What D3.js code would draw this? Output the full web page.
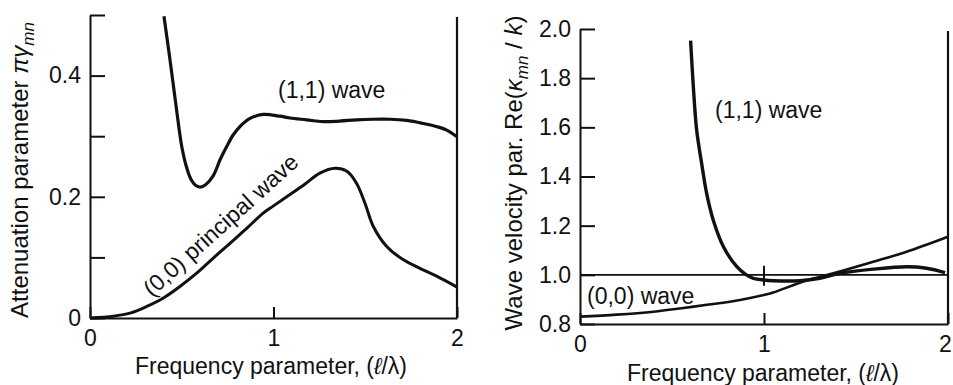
<!DOCTYPE html>
<html>
<head>
<meta charset="utf-8">
<script src="https://cdn.jsdelivr.net/npm/d3@7"></script>
<style>
	body { margin: 0; background: #fff; }
	svg { display: block; }
	text { fill: #111; font-family: "Liberation Sans", Arial, sans-serif; }
</style>
</head>
<body>
<div class="chart"></div>
<script>
// left panel: attenuation parameter
const att11X = [0.403, 0.436, 0.472, 0.500, 0.525, 0.550, 0.575, 0.600, 0.630, 0.672, 0.710, 0.745, 0.780, 0.817, 0.870, 0.944, 1.035, 1.090, 1.180, 1.270, 1.360, 1.453, 1.545, 1.635, 1.726, 1.816, 1.900, 1.944, 2.000];
const att11Y = [0.498, 0.426, 0.343, 0.283, 0.250, 0.229, 0.219, 0.216, 0.220, 0.235, 0.262, 0.283, 0.302, 0.316, 0.329, 0.336, 0.333, 0.330, 0.327, 0.324, 0.325, 0.327, 0.328, 0.328, 0.326, 0.321, 0.315, 0.310, 0.299];
const att00X = [0, 0.127, 0.218, 0.309, 0.400, 0.490, 0.581, 0.672, 0.763, 0.854, 0.944, 1.000, 1.072, 1.163, 1.253, 1.335, 1.400, 1.453, 1.499, 1.544, 1.617, 1.708, 1.798, 1.889, 2.000];
const att00Y = [0, 0.003, 0.008, 0.019, 0.033, 0.052, 0.074, 0.099, 0.123, 0.148, 0.173, 0.185, 0.200, 0.219, 0.239, 0.247, 0.242, 0.222, 0.189, 0.151, 0.118, 0.096, 0.082, 0.069, 0.051];

// right panel: wave velocity parameter
const vel11X = [0.601, 0.616, 0.634, 0.661, 0.688, 0.724, 0.779, 0.851, 0.900, 0.942, 1.000, 1.050, 1.196, 1.304, 1.413, 1.594, 1.775, 1.884, 1.984];
const vel11Y = [1.953, 1.765, 1.589, 1.454, 1.332, 1.223, 1.115, 1.034, 1.002, 0.986, 0.979, 0.976, 0.976, 0.986, 1.006, 1.023, 1.033, 1.027, 1.009];
const vel00X = [0, 0.200, 0.400, 0.552, 0.700, 0.870, 1.000, 1.050, 1.232, 1.377, 1.594, 1.775, 2.000];
const vel00Y = [0.830, 0.838, 0.850, 0.864, 0.879, 0.898, 0.918, 0.928, 0.977, 1.006, 1.053, 1.094, 1.155];

// ticks
const xTicks = [0, 1, 2];
const xTickLabels = ['0', '1', '2'];
const attTicks = [0, 0.1, 0.2, 0.3, 0.4, 0.5];
const attTickLabels = ['0', '', '0.2', '', '0.4', ''];
const velTicks = [0.8, 1.0, 1.2, 1.4, 1.6, 1.8, 2.0];
const velTickLabels = ['0.8', '1.0', '1.2', '1.4', '1.6', '1.8', '2.0'];

const W = 953, H = 385;
const font = 23;

let svg = d3.select('.chart').append('svg')
	.attr('width', W)
	.attr('height', H);

function zip(xs, ys) {
	return xs.map((d, i) => ({ x: d, y: ys[i] }));
}

function drawPanel(opt) {
	let x = d3.scaleLinear().domain([0, 2]).range(opt.xRange);
	let y = d3.scaleLinear().domain(opt.yDomain).range(opt.yRange);
	let g = svg.append('g');

	//left axis, ticks pointing inward
	let yAxis = d3.axisLeft(y)
		.tickValues(opt.yTicks)
		.tickFormat((d, i) => opt.yLabels[i])
		.tickSizeInner(-15)
		.tickSizeOuter(0)
		.tickPadding(9);
	let yg = g.append('g')
		.attr('transform', 'translate(' + opt.xRange[0] + ',0)')
		.call(yAxis);

	let xAxis = d3.axisBottom(x)
		.tickValues(xTicks)
		.tickFormat((d, i) => xTickLabels[i])
		.tickSizeInner(-11)
		.tickSizeOuter(0)
		.tickPadding(opt.xPad);
	let xg = g.append('g')
		.attr('transform', 'translate(0,' + opt.yRange[0] + ')')
		.call(xAxis);

	[yg, xg].forEach(a => {
		a.attr('font-size', font).attr('font-family', null);
		a.selectAll('path, line').attr('stroke', '#111').attr('stroke-width', 2);
	});
	xg.selectAll('.tick text').attr('dx', (d, i) => opt.lastDx && i === 2 ? opt.lastDx : null);

	//closing line at x = 2
	g.append('line')
		.attr('x1', x(2)).attr('x2', x(2))
		.attr('y1', opt.yRange[0]).attr('y2', opt.yRange[1] + 2)
		.attr('stroke', '#111')
		.attr('stroke-width', 2.2);

	return { g: g, x: x, y: y };
}

function drawCurve(p, xs, ys, w) {
	let line = d3.line()
		.x(d => p.x(d.x))
		.y(d => p.y(d.y))
		.curve(d3.curveCatmullRom.alpha(0.5));
	p.g.append('path')
		.datum(zip(xs, ys))
		.attr('d', line)
		.attr('fill', 'none')
		.attr('stroke', '#111')
		.attr('stroke-width', w)
		.attr('stroke-linejoin', 'round');
}

function yTitle(cx, cy, parts) {
	let t = svg.append('text')
		.attr('transform', 'translate(' + cx + ',' + cy + ') rotate(-90)')
		.attr('text-anchor', 'middle')
		.attr('font-size', 24);
	parts.forEach(p => {
		let s = t.append('tspan').text(p.t);
		if (p.i) s.attr('font-style', 'italic');
		if (p.sub) s.attr('font-size', 17).attr('dy', 6);
		if (p.up) s.attr('dy', -6);
	});
}

function xTitle(cx, by) {
	let t = svg.append('text')
		.attr('x', cx)
		.attr('y', by)
		.attr('text-anchor', 'middle')
		.attr('font-size', 23);
	t.append('tspan').text('Frequency parameter, (');
	t.append('tspan').attr('font-style', 'italic').text('ℓ');
	t.append('tspan').text('/λ)');
}

// left panel
let att = drawPanel({
	xRange: [90, 457], yDomain: [0, 0.5], yRange: [318, 15],
	yTicks: attTicks, yLabels: attTickLabels, xPad: 12
});
drawCurve(att, att11X, att11Y, 3.2);
drawCurve(att, att00X, att00Y, 3);

att.g.append('text')
	.attr('x', 278).attr('y', 98)
	.attr('font-size', font)
	.text('(1,1) wave');
att.g.append('text')
	.attr('transform', 'translate(226,231) rotate(-42)')
	.attr('text-anchor', 'middle')
	.attr('font-size', font)
	.text('(0,0) principal wave');

yTitle(28, 170, [
	{ t: 'Attenuation parameter ' },
	{ t: 'πγ', i: true },
	{ t: 'mn', i: true, sub: true }
]);
xTitle(271, 374);

// right panel
let vel = drawPanel({
	xRange: [580, 948], yDomain: [0.8, 2.0], yRange: [324, 29],
	yTicks: velTicks, yLabels: velTickLabels, xPad: 12, lastDx: -3
});

//reference level 1.0 with a cross mark at x = 1
vel.g.append('line')
	.attr('x1', vel.x(0)).attr('x2', vel.x(2))
	.attr('y1', vel.y(1)).attr('y2', vel.y(1))
	.attr('stroke', '#111')
	.attr('stroke-width', 1.6);
vel.g.append('line')
	.attr('x1', vel.x(1)).attr('x2', vel.x(1))
	.attr('y1', vel.y(1) - 9).attr('y2', vel.y(1) + 11)
	.attr('stroke', '#111')
	.attr('stroke-width', 2);

drawCurve(vel, vel11X, vel11Y, 3.4);
drawCurve(vel, vel00X, vel00Y, 2.6);

vel.g.append('text')
	.attr('x', 715).attr('y', 118)
	.attr('font-size', font)
	.text('(1,1) wave');
vel.g.append('text')
	.attr('x', 587).attr('y', 304)
	.attr('font-size', font)
	.text('(0,0) wave');

yTitle(522, 173, [
	{ t: 'Wave velocity par. Re(' },
	{ t: 'κ', i: true },
	{ t: 'mn', i: true, sub: true },
	{ t: ' / ', up: true },
	{ t: 'k', i: true },
	{ t: ')' }
]);
xTitle(763, 381);
</script>
</body>
</html>
